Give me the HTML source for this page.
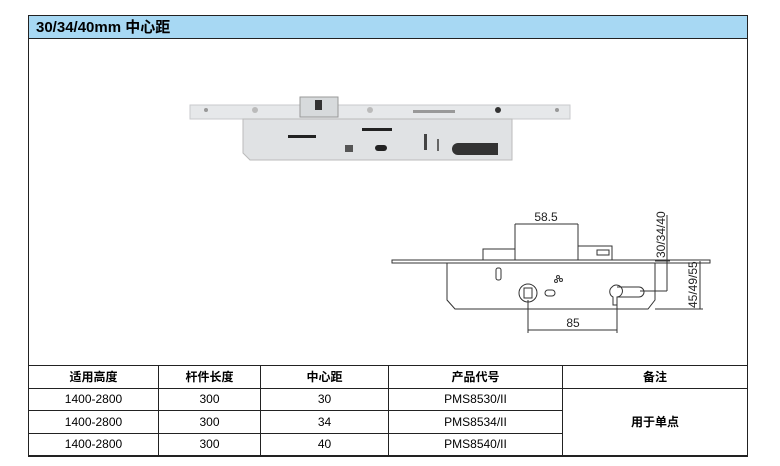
<!DOCTYPE html><html><head><meta charset="utf-8"><style>
body{margin:0;width:780px;height:466px;background:#fff;font-family:"Liberation Sans","Noto Sans CJK SC",sans-serif;position:relative;overflow:hidden}
.box{position:absolute;left:28px;top:15px;width:718px;height:440px;border:1px solid #222}
.hd{position:absolute;left:0;top:0;width:718px;height:23px;background:#a7d8f3;border-bottom:1px solid #222;font-weight:bold;font-size:15px;line-height:23px;padding-left:7px;box-sizing:border-box}
table{position:absolute;left:28px;top:365px;width:720px;border-collapse:collapse;table-layout:fixed;font-size:12px;text-align:center}
td,th{border:1px solid #222;padding:0}
tr{height:22.5px}
th{font-size:12px}
</style></head><body>
<div class="box"><div class="hd">30/34/40mm 中心距</div></div>
<svg style="position:absolute;left:0;top:0" width="780" height="466">
<g>
<rect x="190" y="105" width="380" height="14" fill="#e6e8ea" stroke="#c8cacc"/>
<rect x="300" y="97" width="38" height="20" fill="#d7dadc" stroke="#999"/>
<rect x="315" y="100" width="7" height="10" fill="#333"/>
<polygon points="243,119 512,119 512,160 250,160 243,153" fill="#e0e2e4" stroke="#bbb"/>
<rect x="288" y="135" width="28" height="3" fill="#222"/>
<rect x="362" y="128" width="30" height="3" fill="#222"/>
<rect x="345" y="145" width="8" height="7" fill="#555"/>
<rect x="375" y="145" width="12" height="6" rx="3" fill="#222"/>
<rect x="424" y="134" width="3" height="16" fill="#444"/>
<rect x="437" y="139" width="2" height="12" fill="#666"/>
<path d="M458 143 h40 v12 h-40 a6 6 0 0 1 0-12z" fill="#333"/>
<rect x="413" y="110" width="42" height="3" fill="#999"/>
<circle cx="255" cy="110" r="3" fill="#bbb"/><circle cx="370" cy="110" r="3" fill="#bbb"/><circle cx="498" cy="110" r="3" fill="#333"/><circle cx="206" cy="110" r="2" fill="#999"/><circle cx="557" cy="110" r="2" fill="#999"/>
</g>
<g fill="none" stroke="#333" stroke-width="1">
<rect x="392" y="260" width="318" height="3"/>
<polygon points="447,263 655,263 655,300 648,309 455,309 447,300"/>
<rect x="483" y="249" width="32" height="11"/>
<rect x="578" y="246" width="34" height="14"/>
<rect x="597" y="250" width="12" height="5"/>
<rect x="496" y="268" width="5" height="12" rx="2"/>
<circle cx="528" cy="293" r="9"/>
<rect x="524" y="288" width="8" height="10"/>
<rect x="545" y="290" width="10" height="6" rx="3"/>
<path d="M612 287 a6 6 0 1 1 5 10 v8 h-4 v-8 a6 6 0 0 1 -1 -10z M617 287 h22 a5 5 0 0 1 0 10 h-22"/>
<circle cx="558" cy="277" r="1.5"/><circle cx="556" cy="281" r="1.5"/><circle cx="561" cy="280" r="1.5"/>
<line x1="515" y1="224" x2="515" y2="260"/><line x1="578" y1="224" x2="578" y2="246"/><line x1="515" y1="224" x2="578" y2="224"/>
<line x1="667" y1="215" x2="667" y2="291"/><line x1="640" y1="291" x2="667" y2="291"/><line x1="655" y1="261" x2="670" y2="261"/>
<line x1="700" y1="261" x2="700" y2="309"/><line x1="655" y1="309" x2="703" y2="309"/>
<line x1="528" y1="300" x2="528" y2="333"/><line x1="617" y1="305" x2="617" y2="333"/><line x1="528" y1="330" x2="617" y2="330"/>
</g>
<g font-size="12" fill="#222">
<text x="546" y="221" text-anchor="middle">58.5</text>
<text x="573" y="327" text-anchor="middle">85</text>
<text transform="translate(665,258) rotate(-90)">30/34/40</text>
<text transform="translate(697,308) rotate(-90)">45/49/55</text>
</g>
</svg>
<table>
<tr><th style="width:129px">适用高度</th><th style="width:101px">杆件长度</th><th style="width:127px">中心距</th><th style="width:173px">产品代号</th><th>备注</th></tr>
<tr><td>1400-2800</td><td>300</td><td>30</td><td>PMS8530/II</td><td rowspan="3" style="font-weight:bold">用于单点</td></tr>
<tr><td>1400-2800</td><td>300</td><td>34</td><td>PMS8534/II</td></tr>
<tr><td>1400-2800</td><td>300</td><td>40</td><td>PMS8540/II</td></tr>
</table>
</body></html>
